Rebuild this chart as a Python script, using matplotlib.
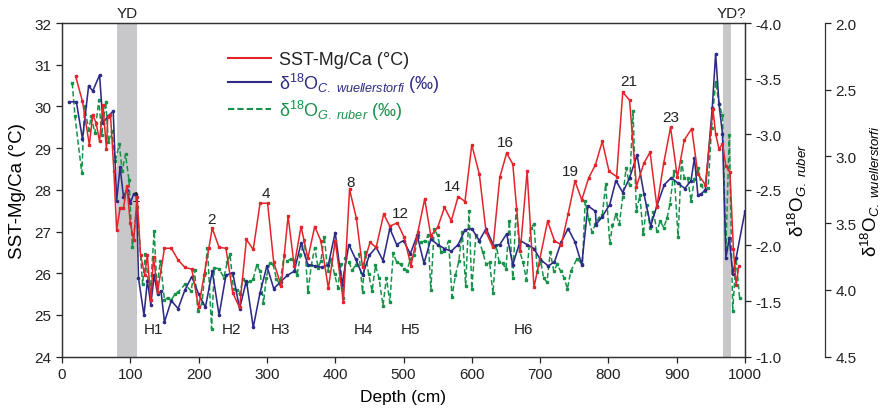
import matplotlib
matplotlib.use('Agg')
import matplotlib.pyplot as plt
from matplotlib.lines import Line2D

plt.rcParams['font.family'] = ['Liberation Sans', 'DejaVu Sans']
plt.rcParams['mathtext.fontset'] = 'custom'
plt.rcParams['mathtext.rm'] = 'Liberation Sans'
plt.rcParams['mathtext.it'] = 'Liberation Sans:italic'
plt.rcParams['mathtext.bf'] = 'Liberation Sans:bold'

# ---------------- data ----------------
sst_depth = [20, 30, 40, 45, 50, 55, 60, 65, 67, 71, 76, 80, 85, 90, 95, 100, 105, 110,
             115, 121, 125, 130, 134, 140, 150, 160, 170, 180, 190, 200, 208, 215, 220,
             230, 240, 250, 260, 270, 280, 290, 301, 310, 321, 331, 340, 350, 360, 370,
             379, 390, 400, 412, 421, 431, 440, 451, 460, 471, 480, 491, 501, 511, 521,
             531, 540, 550, 560, 570, 580, 590, 600, 611, 621, 631, 641, 651, 660, 671,
             681, 691, 711, 721, 731, 741, 751, 761, 771, 781, 791, 801, 812, 821, 831,
             841, 852, 861, 871, 881, 891, 901, 911, 922, 931, 942, 953, 957, 962, 967,
             972, 978, 983, 987, 991]
sst_values = [30.72, 30.12, 29.08, 29.8, 29.6, 29.16, 30.04, 28.98, 29.75, 29.8, 28.44, 27.04,
              27.56, 27.56, 28.1, 27.2, 26.8, 27.84, 26.44, 25.96, 26.44, 25.35, 26.38, 25.56,
              26.6, 26.6, 26.32, 26.14, 26.1, 25.18, 25.95, 26.6, 27.08, 26.62, 26.6, 25.53,
              25.18, 26.81, 26.57, 27.68, 27.68, 26.26, 25.70, 27.37, 26.18, 27.12, 26.36,
              27.12, 26.78, 25.64, 26.78, 25.32, 28.01, 27.32, 26.14, 26.74, 26.62, 27.42,
              27.13, 27.21, 26.86, 26.18, 26.98, 27.78, 26.90, 27.10, 27.58, 27.26, 27.84,
              27.72, 29.08, 28.38, 26.98, 26.62, 28.30, 28.88, 28.62, 26.54, 28.44, 25.66,
              27.25, 26.78, 26.68, 27.42, 28.21, 27.76, 28.28, 28.6, 29.16, 28.44, 28.32,
              30.34, 30.15, 28.08, 28.64, 28.9, 27.6, 28.64, 29.5, 28.3, 29.19, 29.47, 28.38,
              28.12, 29.94, 29.34, 28.98, 29.1, 28.58, 28.42, 26.58, 25.72, 26.18]

cw_depth = [10, 21, 30, 39, 45, 55, 60, 67, 75, 80, 85, 90, 95, 100, 105, 109, 112, 120,
            125, 130, 135, 140, 145, 150, 160, 170, 180, 190, 200, 210, 220, 230, 240, 250,
            260, 270, 280, 290, 300, 310, 320, 330, 340, 350, 360, 370, 380, 390, 400, 410,
            420, 430, 440, 450, 460, 470, 480, 490, 500, 510, 520, 530, 540, 550, 560, 570,
            580, 590, 600, 611, 621, 632, 641, 651, 660, 671, 681, 691, 700, 712, 721, 731,
            741, 751, 761, 770, 781, 782, 791, 802, 811, 821, 831, 842, 852, 862, 871, 882,
            892, 902, 912, 921, 926, 931, 936, 942, 952, 957, 962, 967, 972, 977, 982, 987,
            1000]
cw_d18o = [2.59, 2.59, 2.87, 2.47, 2.51, 2.39, 2.75, 2.70, 2.66, 3.33, 3.08, 3.30, 3.25,
           3.35, 3.28, 3.28, 3.91, 4.19, 3.93, 4.11, 3.89, 4.03, 4.01, 4.24, 4.08, 4.14,
           4.00, 3.90, 4.03, 4.13, 3.86, 4.19, 3.89, 3.87, 4.14, 3.93, 4.28, 4.02, 3.82,
           3.99, 3.94, 3.89, 3.86, 3.65, 3.81, 3.82, 3.83, 3.81, 3.57, 3.96, 3.66, 3.77,
           3.89, 3.74, 3.68, 3.78, 3.54, 3.66, 3.63, 3.73, 3.59, 3.80, 3.62, 3.66, 3.69,
           3.71, 3.66, 3.55, 3.54, 3.63, 3.54, 3.67, 3.66, 3.58, 3.81, 3.63, 3.66, 3.69,
           3.77, 3.82, 3.79, 3.64, 3.54, 3.64, 3.81, 3.37, 3.41, 3.51, 3.45, 3.36, 3.18,
           3.27, 3.16, 2.99, 3.28, 3.52, 3.37, 3.21, 3.16, 3.20, 3.24, 3.18, 3.01, 3.29,
           3.28, 3.25, 2.64, 2.23, 2.61, 2.83, 3.76, 3.61, 3.88, 3.76, 3.41]

ruber_depth = [15, 19, 29, 33, 39, 43, 48, 54, 58, 64, 68, 73, 78, 84, 88, 93, 98, 103, 110,
               118, 122, 126, 130, 135, 139, 144, 150, 155, 160, 165, 170, 180, 189, 194,
               199, 205, 209, 213, 219, 223, 230, 237, 242, 246, 251, 256, 260, 265, 270,
               275, 280, 285, 290, 295, 299, 304, 309, 314, 319, 325, 330, 335, 339, 344,
               349, 355, 360, 365, 370, 375, 379, 384, 389, 394, 399, 404, 408, 411, 415,
               420, 425, 430, 435, 440, 444, 449, 454, 459, 464, 470, 475, 480, 485, 490,
               496, 500, 505, 510, 516, 521, 526, 531, 536, 540, 545, 550, 555, 560, 566,
               571, 576, 581, 586, 591, 596, 600, 606, 611, 616, 621, 626, 631, 636, 640,
               645, 650, 655, 660, 665, 670, 675, 680, 686, 691, 696, 701, 705, 710, 715,
               720, 725, 730, 735, 740, 745, 754, 762, 766, 771, 776, 781, 786, 791, 796,
               802, 806, 811, 816, 821, 826, 831, 836, 841, 846, 851, 856, 861, 866, 871,
               876, 881, 886, 890, 896, 902, 907, 911, 916, 921, 926, 931, 936, 941, 946,
               951, 957, 962, 967, 972, 977, 982, 987, 992]
ruber_d18o = [-3.46, -3.16, -2.65, -3.25, -3.04, -3.16, -3.01, -3.31, -2.99, -3.29, -2.93,
              -3.03, -2.76, -2.91, -2.67, -2.82, -2.59, -1.99, -2.35, -1.65, -1.92, -1.69,
              -1.65, -2.13, -1.62, -1.86, -1.51, -1.53, -1.51, -1.56, -1.58, -1.65, -1.59,
              -1.78, -1.41, -1.48, -1.75, -1.98, -1.25, -1.80, -1.79, -1.71, -1.85, -1.92,
              -1.61, -1.60, -1.56, -1.70, -1.65, -1.68, -1.70, -1.82, -1.77, -1.48, -1.71,
              -1.84, -1.83, -1.70, -1.65, -1.91, -1.86, -1.88, -1.86, -1.73, -1.91, -2.05,
              -1.58, -1.82, -1.98, -1.80, -1.86, -2.08, -1.77, -1.88, -1.74, -1.62, -1.83,
              -1.53, -1.89, -1.85, -1.78, -1.82, -1.92, -1.58, -1.94, -1.74, -1.59, -1.82,
              -1.71, -1.46, -1.71, -1.49, -1.93, -1.85, -1.83, -1.79, -1.77, -1.88, -1.91,
              -2.09, -2.03, -2.04, -2.09, -1.60, -2.15, -2.09, -1.94, -1.95, -2.04, -1.54,
              -1.73, -1.86, -2.12, -1.64, -2.31, -1.61, -2.09, -2.04, -1.94, -1.83, -1.85,
              -1.57, -2.00, -1.85, -1.84, -1.79, -2.22, -1.71, -2.33, -1.95, -1.85, -1.69,
              -2.16, -2.19, -1.76, -1.86, -1.71, -1.67, -1.94, -1.77, -1.83, -1.77, -1.71,
              -1.61, -1.77, -1.88, -1.83, -2.40, -2.24, -2.12, -2.19, -2.25, -2.27, -2.55,
              -2.02, -2.18, -2.28, -2.19, -2.44, -2.70, -2.54, -3.21, -2.31, -2.45, -2.10,
              -2.36, -2.16, -2.30, -2.13, -2.22, -2.16, -2.25, -2.37, -2.67, -2.08, -2.76,
              -2.61, -2.61, -2.40, -2.60, -2.70, -2.54, -2.49, -2.52, -3.06, -3.47, -3.27,
              -3.17, -1.97, -2.99, -1.41, -1.89, -1.53]

event_labels = ['1', '2', '4', '8', '12', '14', '16', '19', '21', '23']
event_depths = [109, 219, 298, 422, 496, 572, 649, 745, 830, 891]
event_sst = [27.82, 27.3, 27.92, 28.2, 27.45, 28.1, 29.15, 28.45, 30.6, 29.75]

heinrich_labels = ['H1', 'H2', 'H3', 'H4', 'H5', 'H6']
heinrich_depths = [134, 248, 320, 441, 510, 676]

band_labels = ['YD', 'YD?']
band_ranges = [(80, 110), (968, 980)]

RED = '#e3242b'
BLUE = '#2e2b86'
GREEN = '#17924a'
GRAY = '#c8c8ca'
TXT = '#222222'

W, H = 884, 414
fig = plt.figure(figsize=(W / 100, H / 100), dpi=100)
L, R, T, B = 62, 745, 24, 357.7
ax = fig.add_axes([L / W, 1 - B / H, (R - L) / W, (B - T) / H])
ax_g = ax.twinx()
ax_b = ax.twinx()

# layering: green lowest, blue, red top
ax_g.set_zorder(1)
ax_b.set_zorder(2)
ax.set_zorder(3)
ax.patch.set_visible(False)
ax_g.patch.set_visible(True)
ax_g.patch.set_facecolor('white')

for (a, b) in band_ranges:
    ax_g.axvspan(a, b, color=GRAY, lw=0, zorder=0)

ax_g.plot(ruber_depth, ruber_d18o, color=GREEN, ls=(0, (3.5, 1.8)), lw=1.1,
          marker='s', ms=1.9, mec=GREEN, mfc=GREEN)
ax_b.plot(cw_depth, cw_d18o, color=BLUE, lw=1.15, marker='o', ms=1.6, mec=BLUE, mfc=BLUE)
ax.plot(sst_depth, sst_values, color=RED, lw=1.1, marker='s', ms=1.9, mec=RED, mfc=RED)

ax.set_xlim(0, 1000)
ax.set_ylim(24, 32)
ax_g.set_ylim(-1, -4)
ax_b.set_ylim(4.5, 2.0)

tick_fs = 11
ax.set_xticks(range(0, 1001, 100))
ax.set_yticks(range(24, 33))
ax_g.set_yticks([-4.0, -3.5, -3.0, -2.5, -2.0, -1.5, -1.0])
ax_b.set_yticks([2.0, 2.5, 3.0, 3.5, 4.0, 4.5])
ax_g.yaxis.set_major_formatter(matplotlib.ticker.FormatStrFormatter('%.1f'))
ax_b.yaxis.set_major_formatter(matplotlib.ticker.FormatStrFormatter('%.1f'))

for a in (ax, ax_g, ax_b):
    a.tick_params(axis='both', labelsize=tick_fs, direction='out', length=4, width=0.9,
                  colors=TXT)
    for s in a.spines.values():
        s.set_linewidth(0.9)
        s.set_color('#333333')

ax_b.spines['right'].set_position(('axes', 1 + 80 / (R - L)))
for k in ('left', 'top', 'bottom'):
    ax_b.spines[k].set_visible(False)

ax.set_xlabel('Depth (cm)', fontsize=12.5, labelpad=6)
ax.set_ylabel('SST-Mg/Ca (°C)', fontsize=13.5, labelpad=6)
ax_g.set_ylabel('δ$^{18}$O$_{\\mathit{G.\\ ruber}}$', fontsize=13.5, labelpad=3)
ax_b.set_ylabel('δ$^{18}$O$_{\\mathit{C.\\ wuellerstorfi}}$', fontsize=13.5, labelpad=2)

for lab, (a, b) in zip(band_labels, band_ranges):
    ax.text((a + b) / 2 + (6 if lab == 'YD?' else 0), 32.08, lab, ha='center', va='bottom',
            fontsize=11, color=TXT, clip_on=False)

for lab, d, s in zip(event_labels, event_depths, event_sst):
    ax.text(d, s, lab, ha='center', va='center', fontsize=11, color=TXT,
            zorder=0 if lab == '1' else 3)

for lab, d in zip(heinrich_labels, heinrich_depths):
    ax.text(d, 24.66, lab, ha='center', va='center', fontsize=11, color=TXT)

handles = [Line2D([], [], color=RED, lw=1.5),
           Line2D([], [], color=BLUE, lw=1.5),
           Line2D([], [], color=GREEN, lw=1.5, ls=(0, (3, 1.5)))]
labels = ['SST-Mg/Ca (°C)',
          'δ$^{18}$O$_{\\mathit{C.\\ wuellerstorfi}}$ (‰)',
          'δ$^{18}$O$_{\\mathit{G.\\ ruber}}$ (‰)']
leg = ax.legend(handles, labels, loc='upper left',
                bbox_to_anchor=((228 - L) / (R - L), 1 - (52 - T) / (B - T)),
                frameon=False, fontsize=13, handlelength=2.4, handletextpad=0.4,
                labelspacing=0.15, borderaxespad=0, borderpad=0)
for t, c in zip(leg.get_texts(), [TXT, BLUE, GREEN]):
    t.set_color(c)

fig.savefig('out.png', dpi=100, facecolor='white')
